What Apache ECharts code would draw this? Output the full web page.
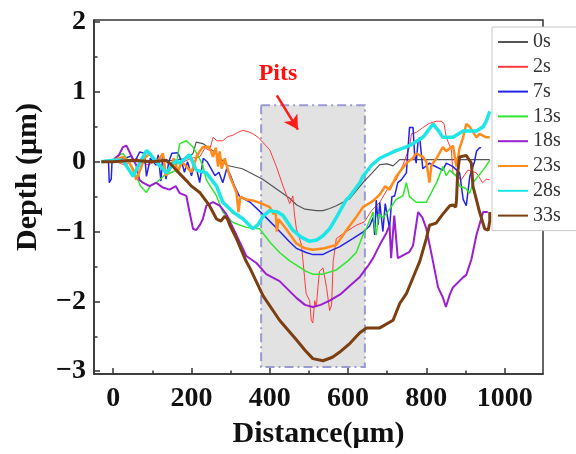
<!DOCTYPE html>
<html>
<head>
<meta charset="utf-8">
<script src="https://cdn.jsdelivr.net/npm/echarts@6/dist/echarts.min.js"></script>
<style>
  html, body { margin: 0; padding: 0; background: #fff; }
  #chart { width: 576px; height: 454px; }
</style>
</head>
<body>
<div id="chart"></div>
<script>
// Surface depth profiles across the pitted region, one per etching time.
const timeLabels = ['0s', '2s', '7s', '13s', '18s', '23s', '28s', '33s'];

const xTicks = [0, 200, 400, 600, 800, 1000];
const xMinorTicks = [100, 300, 500, 700, 900];
const yTicks = [-3, -2, -1, 0, 1, 2];
const yMinorTicks = [-2.5, -1.5, -0.5, 0.5, 1.5];

// [distance (µm), depth (µm)]
const depth0s = [[-30,0],[0,0],[50,0],[100,0],[150,0.02],[190,0.05],[204,0.12],[212,0.28],[229,0.26],[246,0.19],[264,0.12],[289,-0.05],[330,-0.1],[382,-0.25],[420,-0.4],[450,-0.52],[469,-0.62],[490,-0.68],[519,-0.7],[536,-0.7],[553,-0.67],[570,-0.63],[604,-0.53],[638,-0.3],[660,-0.17],[681,-0.04],[700,-0.03],[715,-0.06],[732,0.03],[770,0.03],[850,0.03],[962,0.03]];
const depth2s = [[-30,0],[0,0.02],[30,-0.05],[60,0.05],[90,-0.05],[120,0.05],[150,-0.05],[180,0],[200,0.05],[221,0.07],[235,0.2],[246,0.16],[255,0.35],[265,0.3],[280,0.3],[293,0.36],[306,0.38],[318,0.42],[331,0.45],[345,0.43],[357,0.4],[370,0.35],[382,0.28],[400,0.17],[417,-0.07],[434,-0.35],[451,-0.6],[459,-0.49],[463,-0.75],[468,-0.96],[472,-0.96],[481,-1.19],[489,-1.66],[493,-1.89],[502,-1.99],[506,-2.27],[510,-2.31],[515,-1.99],[519,-2.08],[523,-1.8],[527,-1.57],[536,-1.52],[545,-1.8],[553,-2.13],[558,-2.05],[562,-1.43],[570,-1.1],[596,-1.0],[621,-0.91],[642,-0.86],[660,-0.7],[681,-0.58],[700,-0.4],[723,-0.26],[740,-0.05],[757,0.21],[762,0.4],[775,0.42],[791,0.49],[808,0.55],[825,0.58],[838,0.58],[845,0.55],[851,0.35],[864,0.17],[868,-0.16],[878,-0.2],[889,-0.26],[906,-0.12],[928,-0.16],[944,-0.3],[953,-0.25],[962,-0.26]];
const depth7s = [[-30,0],[-20,0.02],[-12,0],[-10,-0.3],[-5,-0.25],[-3,0],[10,0.02],[30,0.05],[45,0.08],[55,0],[68,0.14],[80,0.12],[85,-0.21],[89,-0.2],[95,0.05],[110,-0.05],[115,0.1],[122,-0.28],[127,0.12],[135,-0.25],[142,0],[150,0.12],[165,0.13],[175,0],[182,-0.15],[190,0],[200,-0.2],[207,-0.05],[215,-0.15],[221,-0.3],[230,0.05],[240,0],[250,-0.1],[260,-0.2],[270,-0.15],[280,-0.3],[290,-0.1],[300,-0.2],[310,-0.35],[323,-0.5],[350,-0.58],[382,-0.75],[417,-0.95],[451,-1.15],[468,-1.24],[493,-1.3],[510,-1.33],[535,-1.33],[553,-1.28],[578,-1.22],[612,-1.1],[640,-1.0],[655,-0.92],[664,-0.8],[668,-1.05],[672,-0.55],[677,-0.9],[681,-0.58],[689,-1.0],[695,-0.6],[706,-0.96],[712,-0.5],[719,-0.49],[727,-0.3],[736,-0.26],[749,-0.16],[757,0.49],[766,0.49],[770,0.1],[774,-0.02],[779,0.3],[783,0.35],[791,-0.1],[808,-0.02],[817,-0.05],[842,-0.12],[851,-0.02],[868,-0.07],[885,-0.16],[894,-0.54],[902,-0.63],[911,-0.21],[923,0],[928,0.15],[936,0.2],[940,0.2]];
const depth13s = [[-30,0],[0,0.02],[8,0.07],[25,0.12],[40,0],[51,-0.1],[70,-0.35],[85,-0.44],[95,-0.35],[110,-0.3],[130,-0.2],[150,-0.15],[161,-0.12],[165,0.1],[170,0.26],[187,0.3],[204,0.21],[220,0.05],[229,-0.05],[238,-0.26],[264,-0.49],[280,-0.72],[306,-0.87],[340,-0.94],[374,-0.96],[400,-1.15],[425,-1.3],[451,-1.42],[493,-1.57],[510,-1.61],[536,-1.61],[570,-1.55],[600,-1.42],[621,-1.3],[638,-1.05],[647,-0.95],[664,-0.72],[668,-0.95],[672,-1.05],[678,-0.75],[690,-0.8],[706,-0.68],[723,-0.54],[740,-0.49],[749,-0.3],[757,-0.5],[774,-0.58],[800,-0.58],[826,-0.3],[842,-0.07],[851,-0.2],[860,-0.12],[877,-0.21],[885,-0.35],[900,-0.38],[911,-0.45],[919,-0.3],[945,-0.12],[962,0.02]];
const depth18s = [[-30,0],[0,0.02],[15,0.1],[25,0.21],[34,0.23],[45,0.1],[59,-0.05],[67,-0.26],[76,-0.3],[93,-0.35],[110,-0.3],[127,-0.37],[144,-0.4],[160,-0.35],[170,-0.45],[187,-0.49],[195,-0.72],[204,-0.96],[212,-0.98],[222,-0.9],[229,-0.82],[238,-0.63],[255,-0.58],[272,-0.63],[289,-0.75],[315,-1.05],[340,-1.35],[366,-1.45],[391,-1.61],[425,-1.71],[468,-1.95],[490,-2.05],[510,-2.08],[530,-2.05],[553,-1.99],[580,-1.9],[604,-1.78],[630,-1.65],[650,-1.5],[664,-1.38],[681,-1.19],[698,-1.02],[706,-0.91],[710,-1.38],[715,-1.38],[718,-0.77],[723,-0.77],[727,-1.38],[732,-1.38],[757,-1.29],[766,-1.2],[779,-0.72],[790,-0.8],[800,-0.96],[817,-1.43],[830,-1.8],[842,-1.94],[850,-2.08],[860,-1.9],[868,-1.8],[893,-1.66],[902,-1.62],[915,-1.4],[928,-1.05],[945,-0.72],[957,-0.72]];
const depth23s = [[-30,0],[0,0.02],[25,0.07],[40,0],[51,-0.12],[59,-0.26],[70,-0.1],[80,0.05],[93,0.12],[110,-0.02],[127,0.12],[135,-0.2],[144,-0.12],[155,0.05],[165,-0.15],[175,0],[187,-0.07],[200,-0.15],[215,0.1],[229,0.21],[246,0.21],[255,0.07],[262,0.2],[268,-0.07],[272,0.15],[277,-0.1],[285,0.05],[298,-0.21],[315,-0.44],[320,-0.72],[325,-0.5],[340,-0.54],[360,-0.56],[380,-0.6],[400,-0.65],[410,-0.75],[415,-0.7],[418,-1.0],[422,-0.82],[440,-0.95],[468,-1.17],[490,-1.24],[510,-1.26],[540,-1.24],[570,-1.19],[600,-0.95],[620,-0.8],[638,-0.65],[664,-0.56],[681,-0.47],[695,-0.35],[706,-0.4],[715,-0.3],[723,-0.21],[749,-0.02],[765,0.05],[774,0.12],[791,0.07],[800,0],[808,-0.3],[813,-0.05],[826,0.05],[842,0.21],[851,0.15],[868,0.23],[877,-0.07],[885,0.2],[894,0.35],[902,0.54],[911,0.5],[928,0.35],[936,0.4],[953,0.35],[962,0.35]];
const depth28s = [[-30,0],[0,0.02],[25,0.02],[51,-0.21],[65,-0.05],[85,0.16],[93,0.12],[110,0],[136,-0.16],[150,-0.05],[161,0.02],[170,-0.02],[195,0.1],[212,-0.12],[238,-0.16],[264,-0.35],[280,-0.58],[306,-0.72],[332,-0.82],[357,-0.96],[370,-0.9],[383,-0.78],[400,-0.7],[420,-0.72],[434,-0.77],[459,-0.98],[480,-1.08],[502,-1.14],[520,-1.12],[536,-1.06],[553,-0.96],[570,-0.8],[596,-0.54],[604,-0.5],[630,-0.3],[638,-0.21],[660,-0.05],[681,0.05],[700,0.1],[723,0.16],[757,0.23],[791,0.35],[805,0.45],[817,0.54],[830,0.45],[842,0.35],[868,0.35],[894,0.44],[928,0.44],[945,0.5],[953,0.58],[962,0.72]];
const depth33s = [[-30,0],[0,0],[50,0.02],[100,0],[136,0.02],[150,-0.05],[161,-0.12],[187,-0.27],[200,-0.35],[221,-0.44],[246,-0.63],[264,-0.82],[275,-0.85],[285,-0.78],[292,-0.82],[298,-0.91],[315,-1.1],[340,-1.43],[349,-1.52],[383,-1.92],[425,-2.27],[468,-2.55],[490,-2.7],[510,-2.82],[536,-2.85],[560,-2.8],[578,-2.73],[605,-2.6],[630,-2.45],[647,-2.38],[681,-2.38],[715,-2.27],[732,-2.03],[749,-1.89],[774,-1.55],[783,-1.43],[800,-1.1],[808,-0.91],[825,-0.88],[842,-0.75],[860,-0.63],[868,-0.62],[875,-0.65],[877,-0.55],[880,-0.16],[885,0.07],[902,0.09],[915,-0.02],[919,-0.35],[936,-0.72],[949,-0.96],[958,-0.98],[962,-0.85],[962,-0.72]];

const profiles = [depth0s, depth2s, depth7s, depth13s, depth18s, depth23s, depth28s, depth33s];
const lineColors = ['#555555', '#ff3b3b', '#2323e6', '#2ee62e', '#9b1fd1', '#ff8c1a', '#1fe6e6', '#7b3f12'];
const lineWidths = [1.2, 1, 1.5, 1.5, 2, 2.5, 3.5, 3];

// Highlighted pit zone and its annotation (data coordinates)
const pitZone = [[378, 0.81], [643, -2.94]];
const pitArrow = [[418, 0.95], [472, 0.46]];
const pitLabelAt = [421, 1.26];

const serif = '"Liberation Serif", "Times New Roman", serif';
const frameColor = '#333';
const minusSign = v => String(v).replace('-', '\u2212');

const chart = echarts.init(document.getElementById('chart'), null, { renderer: 'canvas' });

const lineSeries = timeLabels.map((name, i) => ({
  name,
  type: 'line',
  data: profiles[i],
  symbol: 'none',
  showSymbol: false,
  z: 3,
  lineStyle: { color: lineColors[i], width: lineWidths[i] },
  itemStyle: { color: lineColors[i] },
  emphasis: { disabled: true }
}));

const annotationSeries = {
  name: 'pits',
  type: 'line',
  data: [],
  z: 1,
  silent: true,
  markArea: {
    silent: true,
    itemStyle: {
      color: '#e2e2e2',
      borderColor: '#9a9ad2',
      borderWidth: 2,
      borderType: [9, 4, 2, 4]
    },
    data: [[{ coord: pitZone[0] }, { coord: pitZone[1] }]]
  },
  markLine: {
    silent: true,
    symbol: ['none', 'arrow'],
    symbolSize: [12, 14],
    label: { show: false },
    lineStyle: { color: '#ff1a1a', width: 2.5, type: 'solid' },
    data: [[{ coord: pitArrow[0] }, { coord: pitArrow[1] }]]
  },
  markPoint: {
    silent: true,
    symbol: 'circle',
    symbolSize: 0,
    label: {
      show: true,
      position: 'inside',
      formatter: 'Pits',
      color: '#ff1010',
      fontFamily: serif,
      fontWeight: 'bold',
      fontSize: 24
    },
    data: [{ coord: pitLabelAt }]
  }
};

const tickLabelStyle = { color: '#111', fontFamily: serif, fontWeight: 'bold', fontSize: 28 };

chart.setOption({
  animation: false,
  backgroundColor: '#fff',
  grid: {
    left: 94, top: 20, width: 449, height: 362,
    show: true, borderColor: frameColor, borderWidth: 1.5, backgroundColor: 'transparent'
  },
  legend: {
    data: timeLabels,
    orient: 'vertical',
    left: 492, top: 27,
    itemWidth: 30, itemHeight: 14, itemGap: 4.8,
    padding: [5, 24, 5, 5],
    backgroundColor: '#fff',
    borderColor: '#c8c8c8', borderWidth: 1,
    itemStyle: { opacity: 0 },
    textStyle: { color: '#333', fontFamily: serif, fontSize: 20 }
  },
  xAxis: [{
    type: 'value', min: -49, max: 1098,
    name: 'Distance(μm)', nameLocation: 'middle', nameGap: 45,
    nameTextStyle: { color: '#111', fontFamily: serif, fontWeight: 'bold', fontSize: 30 },
    axisLine: { show: true, onZero: false, lineStyle: { color: frameColor, width: 1.5 } },
    axisTick: { show: true, inside: true, length: 6, customValues: xTicks, lineStyle: { color: frameColor, width: 1.5 } },
    axisLabel: { show: true, customValues: xTicks, margin: 11, formatter: v => String(v), ...tickLabelStyle },
    splitLine: { show: false }
  }, {
    type: 'value', min: -49, max: 1098, position: 'bottom',
    axisLine: { show: false, onZero: false },
    axisTick: { show: true, inside: true, length: 3.5, customValues: xMinorTicks, lineStyle: { color: frameColor, width: 1.5 } },
    axisLabel: { show: false },
    splitLine: { show: false }
  }],
  yAxis: [{
    type: 'value', min: -3.04, max: 2.03,
    axisLine: { show: true, onZero: false, lineStyle: { color: frameColor, width: 1.5 } },
    axisTick: { show: true, inside: true, length: 6, customValues: yTicks, lineStyle: { color: frameColor, width: 1.5 } },
    axisLabel: { show: true, customValues: yTicks, margin: 8, formatter: minusSign, ...tickLabelStyle },
    splitLine: { show: false }
  }, {
    type: 'value', min: -3.04, max: 2.03, position: 'left',
    axisLine: { show: false, onZero: false },
    axisTick: { show: true, inside: true, length: 3.5, customValues: yMinorTicks, lineStyle: { color: frameColor, width: 1.5 } },
    axisLabel: { show: false },
    splitLine: { show: false }
  }],
  graphic: [{
    type: 'text',
    x: 28, y: 177,
    rotation: Math.PI / 2,
    style: {
      text: 'Depth (μm)',
      font: 'bold 30px ' + serif,
      fill: '#111',
      textAlign: 'center',
      textVerticalAlign: 'middle'
    }
  }],
  series: [annotationSeries, ...lineSeries]
});
</script>
</body>
</html>
